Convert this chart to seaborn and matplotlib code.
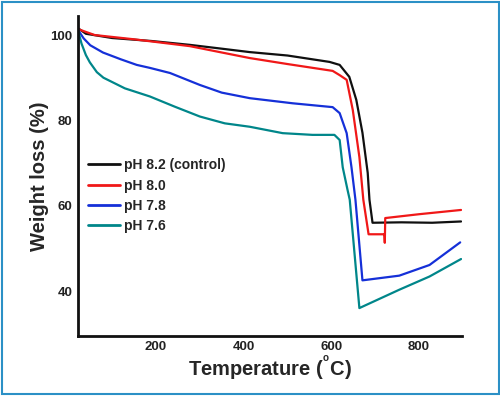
import numpy as np
import pandas as pd
import seaborn as sns
import matplotlib.pyplot as plt
from matplotlib.patches import Rectangle

# TGA curves (temperature in C, weight in %)
t_82 = [22, 40, 100, 190, 277, 350, 414, 500, 596, 619, 641, 657, 671, 683, 687, 694, 760, 830, 896]
w_82 = [101.6, 100.3, 99.3, 98.6, 97.7, 96.8, 96.0, 95.2, 93.7, 93.0, 90.2, 84.8, 77.1, 67.7, 61.4, 56.0, 56.1, 56.0, 56.3]

t_80 = [22, 60, 150, 277, 414, 500, 603, 619, 635, 649, 664, 673, 685, 721, 722, 723, 800, 896]
w_80 = [101.4, 100.0, 99.0, 97.4, 94.6, 93.2, 91.6, 90.6, 89.5, 82.4, 71.4, 61.4, 53.3, 53.3, 51.3, 57.1, 58.0, 59.0]

t_78 = [22, 35, 50, 79, 120, 156, 186, 232, 300, 350, 414, 512, 603, 619, 635, 646, 655, 671, 755, 824, 894]
w_78 = [101.2, 99.2, 97.6, 95.9, 94.3, 93.0, 92.3, 91.1, 88.3, 86.5, 85.2, 84.0, 83.1, 81.7, 77.0, 69.0, 61.4, 42.5, 43.6, 46.1, 51.4]

t_76 = [22, 30, 40, 49, 65, 80, 129, 186, 243, 300, 357, 414, 489, 557, 607, 619, 626, 637, 642, 664, 755, 824, 896]
w_76 = [101.2, 98.0, 95.3, 93.6, 91.3, 90.0, 87.5, 85.6, 83.2, 80.9, 79.3, 78.5, 77.0, 76.6, 76.6, 75.4, 69.0, 63.7, 61.4, 36.0, 40.3, 43.4, 47.5]

labels = ["pH 8.2 (control)", "pH 8.0", "pH 7.8", "pH 7.6"]
colors = ["#101010", "#f01818", "#1530d8", "#00868a"]

frames = []
for lab, t, w in zip(labels, [t_82, t_80, t_78, t_76], [w_82, w_80, w_78, w_76]):
    frames.append(pd.DataFrame({"T": t, "W": w, "sample": lab}))
df = pd.concat(frames, ignore_index=True)

sns.set_style("white")
plt.rcParams['font.family'] = ['Liberation Sans', 'DejaVu Sans']
plt.rcParams['mathtext.fontset'] = 'custom'
plt.rcParams['mathtext.rm'] = 'Liberation Sans:bold'
plt.rcParams['mathtext.bf'] = 'Liberation Sans:bold'

fig = plt.figure(figsize=(5, 3.96), dpi=100)
ax = fig.add_axes([0.156, 0.152, 0.767, 0.808])

sns.lineplot(data=df, x="T", y="W", hue="sample", hue_order=labels,
             palette=colors, sort=False, estimator=None, lw=1.6, ax=ax)

ax.set_xlim(22, 897)
ax.set_ylim(29.5, 104.5)
ax.set_xticks([200, 400, 600, 800])
ax.set_yticks([40, 60, 80, 100])
ax.tick_params(length=0, labelsize=9.5, pad=4)
for lbl in ax.get_xticklabels() + ax.get_yticklabels():
    lbl.set_fontweight("bold")
    lbl.set_color("#222222")

sns.despine(ax=ax)
for s in ["left", "bottom"]:
    ax.spines[s].set_linewidth(2.0)
    ax.spines[s].set_color("#111111")

ax.set_xlabel("Temperature ($^{^{\\mathrm{o}}}$C)", fontsize=14.5, fontweight="bold", labelpad=1)
ax.set_ylabel("Weight loss (%)", fontsize=14.5, fontweight="bold", labelpad=1)

leg = ax.legend(loc="upper left", bbox_to_anchor=(0.0, 0.585), frameon=False,
                prop={"weight": "bold", "size": 10}, handlelength=2.3,
                handletextpad=0.3, labelspacing=0.45, borderaxespad=0.3)
for h in leg.get_lines():
    h.set_linewidth(2.0)

# light blue frame round the figure
fig.patches.append(Rectangle((0.003, 0.004), 0.994, 0.992, transform=fig.transFigure,
                             fill=False, edgecolor="#2b90c6", lw=1.5))

fig.savefig("out.png", dpi=100)
